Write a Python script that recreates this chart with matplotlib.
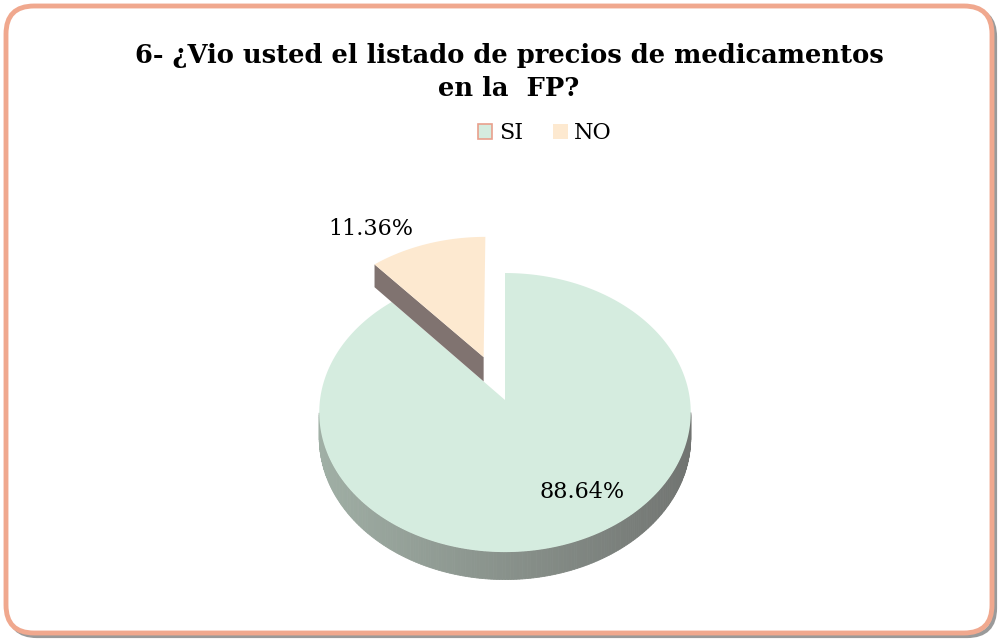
"""
Exploded 3-D pie: "¿Vio usted el listado de precios de medicamentos en la FP?"
Writes out.png (1000x642).
"""
import numpy as np
import matplotlib
matplotlib.use("Agg")
import matplotlib.pyplot as plt
from matplotlib.patches import Polygon, FancyBboxPatch, Patch

# --- data -------------------------------------------------------------------
categories = ["SI", "NO"]
shares = [88.64, 11.36]
pct_labels = ["88.64%", "11.36%"]
title = "6- ¿Vio usted el listado de precios de medicamentos\nen la  FP?"

# --- style ------------------------------------------------------------------
top_colors = ["#d5ecdf", "#fde9d0"]
wall_left = np.array([0.63, 0.69, 0.65])   # lit side of the cylinder wall
wall_right = np.array([0.44, 0.45, 0.44])  # shaded side
cut_color = (0.50, 0.45, 0.44)
legend_edges = ["#e9a08c", "none"]
explode = [0.0, 0.34]
SERIF = ["DejaVu Serif"]

# pie geometry in pixel space (simple perspective: back half smaller)
CX, CY, RX, RY, DEPTH, PERSP = 505, 400, 185, 138.4, 25.0, 0.09
START = 90.0


def proj(u, v, drop=0.0):
    """unit-disk coords (u right, v away from viewer) -> pixel coords"""
    w = 1 + PERSP * v
    return CX + RX * u / w, CY - RY * v / w + drop / w


fig = plt.figure(figsize=(10, 6.42), dpi=100)
ax = fig.add_axes([0, 0, 1, 1])
ax.set_xlim(0, 1000)
ax.set_ylim(642, 0)
ax.axis("off")

# chart frame (grey shadow + salmon rim)
ax.add_patch(FancyBboxPatch((9, 9), 986, 627, boxstyle="round,pad=0,rounding_size=28",
                            fc="none", ec="#9a9a9a", lw=3))
ax.add_patch(FancyBboxPatch((6, 6), 986, 627, boxstyle="round,pad=0,rounding_size=28",
                            fc="white", ec="#f0a88e", lw=3.5))

# slice angles (clockwise from 12 o'clock)
bounds = START - np.concatenate([[0], np.cumsum(shares)]) * 3.6
slices = []
for i in range(len(shares)):
    t1, t2 = bounds[i], bounds[i + 1]
    mid = np.radians((t1 + t2) / 2)
    slices.append((t1, t2, mid, explode[i] * np.cos(mid), explode[i] * np.sin(mid)))

for i in range(len(shares)):
    t1, t2, mid, ou, ov = slices[i]
    ts = np.radians(np.linspace(t1, t2, 400))

    # front outer wall (visible where the rim faces the viewer)
    front = ts[np.sin(ts) < -PERSP]
    for a, b in zip(front[:-1], front[1:]):
        f = (np.cos((a + b) / 2) + 1) / 2
        c = tuple(wall_left * (1 - f) + wall_right * f)
        pa = (ou + np.cos(a), ov + np.sin(a))
        pb = (ou + np.cos(b), ov + np.sin(b))
        ax.add_patch(Polygon([proj(*pa), proj(*pb), proj(*pb, DEPTH), proj(*pa, DEPTH)],
                             closed=True, fc=c, ec=c, lw=0.6))

    # radial cut face at the trailing edge of the exploded slice
    if i > 0:
        e = (ou + np.cos(np.radians(t1)), ov + np.sin(np.radians(t1)))
        ax.add_patch(Polygon([proj(ou, ov), proj(*e), proj(*e, DEPTH), proj(ou, ov, DEPTH)],
                             closed=True, fc=cut_color, ec="none"))

    # top face
    arc = [proj(ou + np.cos(t), ov + np.sin(t)) for t in ts]
    ax.add_patch(Polygon([proj(ou, ov)] + arc, closed=True, fc=top_colors[i], ec="none"))

# percentage labels
t1, t2, mid, ou, ov = slices[0]
lx, ly = proj(ou + 0.62 * np.cos(mid), ov + 0.62 * np.sin(mid))
ax.text(lx + 35, ly + 7, pct_labels[0], ha="center", va="center", fontsize=16, family=SERIF)
t1, t2, mid, ou, ov = slices[1]
lx, ly = proj(ou + np.cos(mid), ov + np.sin(mid))
ax.text(lx - 56, ly - 15, pct_labels[1], ha="center", va="center", fontsize=16, family=SERIF)

# title
ax.text(509, 72, title, ha="center", va="center", fontsize=18.5, fontweight="bold",
        family=SERIF, linespacing=1.42)

# legend
handles = [Patch(fc=top_colors[k], ec=legend_edges[k], lw=1.2) for k in range(len(categories))]
ax.legend(handles, categories, loc="center", bbox_to_anchor=(0.545, 1 - 133 / 642),
          ncol=2, frameon=False, prop={"family": SERIF, "size": 16},
          handlelength=0.65, handleheight=0.65, handletextpad=0.3, columnspacing=1.35)

fig.savefig("out.png", dpi=100)
